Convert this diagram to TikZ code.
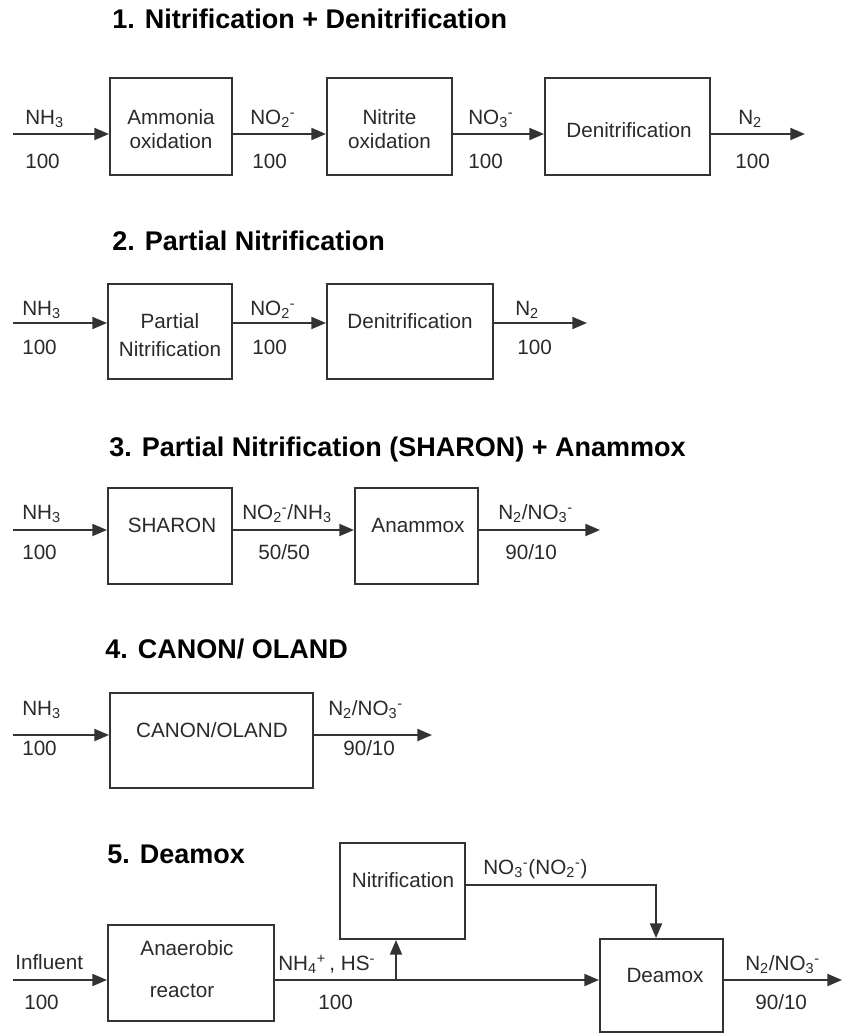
\documentclass[tikz,border=0pt]{standalone}
\usepackage{fontspec}
\setmainfont{Liberation Sans}
\usetikzlibrary{arrows.meta,fit}
\definecolor{ln}{HTML}{333333}
\definecolor{tx}{HTML}{2A2A2A}
\begin{document}
\begin{tikzpicture}[x=0.75pt,y=-0.75pt,
  box/.style={draw=ln,line width=1.5pt,inner sep=0pt},
  txt/.style={font=\fontsize{15.5}{18}\selectfont,text=tx,inner sep=0pt,anchor=base},
  lbl/.style={txt,anchor=base west},
  ttl/.style={font=\bfseries\fontsize{20.25}{24}\selectfont,text=black,inner sep=0pt,anchor=base west},
  arr/.style={draw=ln,line width=1.5pt,-{Triangle[length=11pt,width=9pt]}},
  wire/.style={draw=ln,line width=1.5pt}]
\useasboundingbox[fill=white] (0,0) rectangle (842,1035);

% ---------- 1 ----------
\node[ttl] (t1) at (112,28) {1. Nitrification + Denitrification};
\coordinate (s1) at (13,134);
\coordinate (e1) at (805,134);
\node[box,fit={(110,78) (232,175)}] (A) {};
\node[box,fit={(327,78) (452,175)}] (B) {};
\node[box,fit={(545,78) (710,175)}] (C) {};
\node[txt] (A1) at (171,124) {Ammonia};
\node[txt] (A2) at (171,148) {oxidation};
\node[txt] (B1) at (389.5,124) {Nitrite};
\node[txt] (B2) at (389.5,148) {oxidation};
\node[txt] (C1) at (629,137) {Denitrification};
\draw[arr] (s1) -- (s1 -| A.west);
\draw[arr] (A.east |- s1) -- (B.west |- s1);
\draw[arr] (B.east |- s1) -- (C.west |- s1);
\draw[arr] (C.east |- s1) -- (e1);
\node[lbl] (l11) at (25,124) {NH\textsubscript{3}};
\node[lbl] (v11) at (25,168) {100};
\node[lbl] (l12) at (250,124) {NO\textsubscript{2}\textsuperscript{-}};
\node[lbl] (v12) at (252,168) {100};
\node[lbl] (l13) at (468,124) {NO\textsubscript{3}\textsuperscript{-}};
\node[lbl] (v13) at (468,168) {100};
\node[lbl] (l14) at (738,124) {N\textsubscript{2}};
\node[lbl] (v14) at (735,168) {100};

% ---------- 2 ----------
\node[ttl] (t2) at (112,250) {2. Partial Nitrification};
\coordinate (s2) at (13,323);
\coordinate (e2) at (587,323);
\node[box,fit={(108,284) (232,379)}] (PN) {};
\node[box,fit={(327,284) (493,379)}] (D2) {};
\node[txt] (PN1) at (170,328) {Partial};
\node[txt] (PN2) at (170,356) {Nitrification};
\node[txt] (D21) at (410,328) {Denitrification};
\draw[arr] (s2) -- (s2 -| PN.west);
\draw[arr] (PN.east |- s2) -- (D2.west |- s2);
\draw[arr] (D2.east |- s2) -- (e2);
\node[lbl] (l21) at (22,315) {NH\textsubscript{3}};
\node[lbl] (v21) at (22,354) {100};
\node[lbl] (l22) at (250,315) {NO\textsubscript{2}\textsuperscript{-}};
\node[lbl] (v22) at (252,354) {100};
\node[lbl] (l23) at (515,315) {N\textsubscript{2}};
\node[lbl] (v23) at (517,354) {100};

% ---------- 3 ----------
\node[ttl] (t3) at (109,456) {3. Partial Nitrification (SHARON) + Anammox};
\coordinate (s3) at (13,530);
\coordinate (e3) at (600,530);
\node[box,fit={(108,488) (232,584)}] (SH) {};
\node[box,fit={(355,488) (478,584)}] (AN) {};
\node[txt] (SH1) at (172,532) {SHARON};
\node[txt] (AN1) at (418,532) {Anammox};
\draw[arr] (s3) -- (s3 -| SH.west);
\draw[arr] (SH.east |- s3) -- (AN.west |- s3);
\draw[arr] (AN.east |- s3) -- (e3);
\node[lbl] (l31) at (22,519) {NH\textsubscript{3}};
\node[lbl] (v31) at (22,559) {100};
\node[lbl] (l32) at (242,519) {NO\textsubscript{2}\textsuperscript{-}/NH\textsubscript{3}};
\node[lbl] (v32) at (258,559) {50/50};
\node[lbl] (l33) at (498,519) {N\textsubscript{2}/NO\textsubscript{3}\textsuperscript{-}};
\node[lbl] (v33) at (505,559) {90/10};

% ---------- 4 ----------
\node[ttl] (t4) at (105,658) {4. CANON/ OLAND};
\coordinate (s4) at (13,735);
\coordinate (e4) at (432,735);
\node[box,fit={(110,693) (313,788)}] (CO) {};
\node[txt] (CO1) at (212,737) {CANON/OLAND};
\draw[arr] (s4) -- (s4 -| CO.west);
\draw[arr] (CO.east |- s4) -- (e4);
\node[lbl] (l41) at (22,715) {NH\textsubscript{3}};
\node[lbl] (v41) at (22,755) {100};
\node[lbl] (l42) at (328,715) {N\textsubscript{2}/NO\textsubscript{3}\textsuperscript{-}};
\node[lbl] (v42) at (343,755) {90/10};

% ---------- 5 ----------
\node[ttl] (t5) at (107,863) {5. Deamox};
\coordinate (s5) at (13,980);
\coordinate (e5) at (842,980);
\coordinate (br) at (396,980);
\coordinate (nk) at (656,885);
\node[box,fit={(108,925) (274,1021)}] (R) {};
\node[box,fit={(340,843) (465,939)}] (N) {};
\node[box,fit={(600,939) (723,1032)}] (D) {};
\node[txt] (R1) at (187,955) {Anaerobic};
\node[txt] (R2) at (182,997) {reactor};
\node[txt] (N1) at (403,887) {Nitrification};
\node[txt] (D1) at (665,982) {Deamox};
\draw[arr] (s5) -- (s5 -| R.west);
\draw[arr] (R.east |- s5) -- (D.west |- s5);
\draw[arr] (br) -- (br |- N.south);
\draw[arr] (N.east |- nk) -| (nk |- D.north);
\draw[arr] (D.east |- s5) -- (e5);
\node[lbl] (l51) at (15,969) {Influent};
\node[lbl] (v51) at (24,1009) {100};
\node[lbl] (l52) at (278,970) {NH\textsubscript{4}\textsuperscript{+}\,, HS\textsuperscript{-}};
\node[lbl] (v52) at (318,1009) {100};
\node[lbl] (l53) at (483,874) {NO\textsubscript{3}\textsuperscript{-}(NO\textsubscript{2}\textsuperscript{-})};
\node[lbl] (l54) at (745,970) {N\textsubscript{2}/NO\textsubscript{3}\textsuperscript{-}};
\node[lbl] (v54) at (755,1009) {90/10};
\end{tikzpicture}
\end{document}
